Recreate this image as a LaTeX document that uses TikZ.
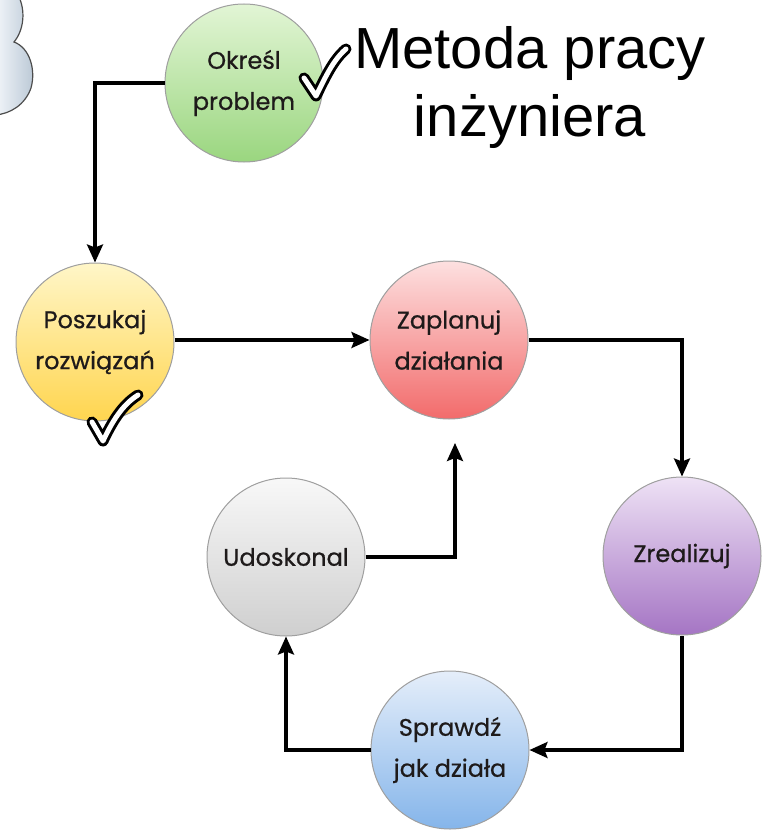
\documentclass[tikz,border=0pt]{standalone}
\usepackage{fontspec}
\setmainfont{Liberation Sans}
\newfontfamily\comic{Poppins}[FakeBold=0.7]
\usetikzlibrary{arrows.meta}
\definecolor{gtop}{HTML}{E2F5D5}\definecolor{gbot}{HTML}{9AD67F}
\definecolor{ytop}{HTML}{FFF6C8}\definecolor{ybot}{HTML}{FFD54F}
\definecolor{rtop}{HTML}{FDE0E0}\definecolor{rbot}{HTML}{F26B6B}
\definecolor{ptop}{HTML}{EEE2F5}\definecolor{pbot}{HTML}{A575C4}
\definecolor{ktop}{HTML}{F8F8F8}\definecolor{kbot}{HTML}{CFCFCF}
\definecolor{btop}{HTML}{E5EEFA}\definecolor{bbot}{HTML}{85B5EA}
\definecolor{ctop}{HTML}{F2F6FA}\definecolor{cbot}{HTML}{B8C6D4}
\definecolor{txt}{HTML}{1E1A1A}
\tikzset{
  stepcircle/.style={circle, draw=gray!75, line width=1pt, minimum size=158pt, inner sep=0pt,
    align=center, text=txt, font=\comic\fontsize{24}{41}\selectfont},
  arr/.style={line width=3.2pt, black, -{Stealth[length=18pt,width=16pt,inset=3pt]}},
  checkmark/.style={line width=3pt, black, double=white, double distance=5pt, line cap=round, line join=round}
}
\begin{document}
\begin{tikzpicture}[x=1pt,y=-1pt]
\useasboundingbox (0,0) rectangle (775,832);
% partial puffy shape top-left
\shade[left color=ctop, right color=cbot, draw=gray!60!black, line width=1.2pt]
  (-5,-5) -- (18,-5) .. controls (26,10) and (24,30) .. (14,42)
  .. controls (30,48) and (36,70) .. (31,88)
  .. controls (25,105) and (10,114) .. (-5,115) -- cycle;
% circles
\node[stepcircle, top color=gtop, bottom color=gbot] (c1) at (244,83) {Określ\\problem};
\node[stepcircle, top color=ytop, bottom color=ybot] (c2) at (95,342) {Poszukaj\\rozwiązań};
\node[stepcircle, top color=rtop, bottom color=rbot] (c3) at (449,340) {Zaplanuj\\działania};
\node[stepcircle, top color=ptop, bottom color=pbot] (c4) at (682,556) {Zrealizuj};
\node[stepcircle, top color=ktop, bottom color=kbot] (c5) at (286,557) {Udoskonal};
\node[stepcircle, top color=btop, bottom color=bbot] (c6) at (450,750) {Sprawdź\\jak działa};
% title
\node[font=\fontsize{58}{68}\selectfont, align=center, text=black] (title) at (530,88) {Metoda pracy\\inżyniera};
% connectors
\coordinate (free) at (455,443);
\draw[arr] (c1.west) -| (c2.north);
\draw[arr] (c2.east |- c3.west) -- (c3.west);
\draw[arr] (c3.east) -| (c4.north);
\draw[arr] (c4.south) |- (c6.east);
\draw[arr] (c6.west) -| (c5.south);
\draw[arr] (c5.east) -| (free);
% checkmarks
\draw[checkmark] (304,78) -- (316,96) .. controls (325,78) and (333,60) .. (346,49);
\draw[checkmark] (92,422) -- (103,441) .. controls (112,422) and (122,405) .. (138,395);
\end{tikzpicture}
\end{document}
